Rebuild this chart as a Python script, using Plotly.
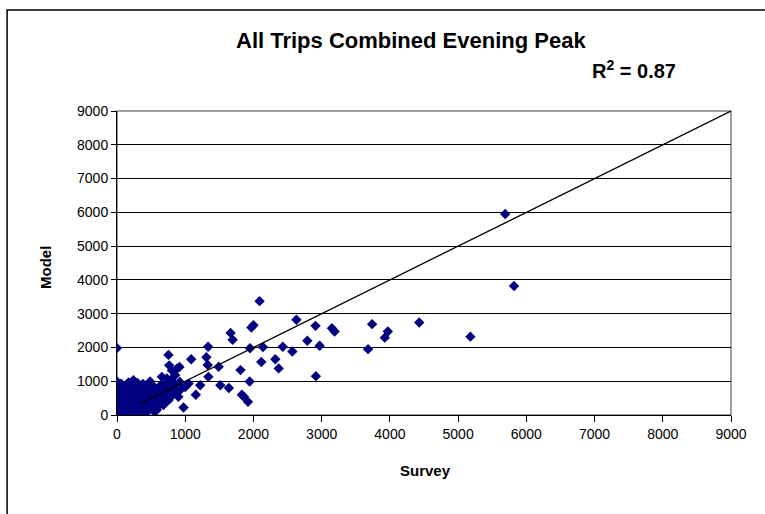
import plotly.graph_objects as go

# Outlying / readable points (Survey, Model)
survey_main = [5690, 5820, 5180, 4430, 3970, 3925, 3740, 3680, 3150, 3190, 2970, 2910, 2915,
               2790, 2630, 2570, 2430, 2370, 2320, 2140, 2115, 2090, 2000, 1970, 1950, 1945,
               1920, 1860, 1830, 1810, 1695, 1665, 1640, 1515, 1490, 1340, 1335, 1330, 1310,
               1220, 1155, 1088, 1050, 1000, 975, 950, 916, 900, 878, 853, 818, 805, 805, 765,
               755, 755, 730, 681, 657, 607, 583, 534, 485, 412, 412, 240, 0, 0]
model_main = [5950, 3820, 2320, 2740, 2470, 2290, 2690, 1950, 2570, 2470, 2050, 2640, 1150,
              2200, 2820, 1880, 2020, 1380, 1650, 2010, 1570, 3370, 2660, 2590, 1975, 990,
              390, 540, 600, 1330, 2230, 2430, 800, 880, 1430, 1130, 2020, 1480, 1710,
              880, 600, 1650, 930, 830, 220, 790, 1420, 540, 1370, 1180, 590, 1320, 1080, 1470,
              1780, 440, 1080, 295, 1130, 755, 150, 740, 990, 820, 50, 1030, 1980, 990]

# Dense cluster near the origin (Survey, Model)
survey_cluster = [0, 10, 0, 20, 5, 30, 0, 15, 0, 25, 5, 35, 0, 15, 40, 5, 25, 0, 45, 10, 30, 0, 20,
                  50, 5, 35, 0, 15, 60, 0, 25,
                  60, 80, 70, 90, 55, 100, 75, 110, 65, 95, 120, 80, 60, 130, 100, 70, 140, 90,
                  115, 75, 150, 100, 130, 85,
                  170, 160, 190, 150, 200, 175, 210, 160, 230, 180, 250, 200, 170, 240, 190, 220,
                  260, 180, 230, 270, 200, 250, 210, 290, 300, 280, 320, 260, 340, 300, 270, 350,
                  310, 370, 290, 330, 390, 350, 300, 410, 370, 320, 420, 360, 330, 400, 450, 430,
                  480, 440, 500, 460, 520, 470, 540, 430, 390, 460, 380, 520, 550, 500, 560, 600,
                  620, 640, 580, 500, 450, 550, 700, 680, 740, 720, 650,
                  620, 700, 780, 850, 880, 820, 920, 660, 580]
model_cluster = [880, 820, 760, 720, 680, 640, 600, 560, 520, 490, 450, 420, 390, 360, 330, 300,
                 270, 240, 210, 190, 160, 140, 110, 90, 70, 50, 30, 15, 5, 0, 0,
                 930, 850, 780, 700, 640, 610, 560, 520, 480, 440, 400, 360, 320, 300, 260, 230,
                 210, 180, 150, 120, 90, 60, 30, 10,
                 960, 880, 820, 760, 700, 650, 600, 560, 520, 480, 450, 410, 370, 340, 300, 260,
                 230, 200, 170, 140, 110, 80, 40, 20, 950, 870, 800, 760, 720, 670, 620, 580,
                 540, 500, 470, 430, 400, 360, 320, 290, 250, 220, 190, 150, 110, 80, 620, 560,
                 520, 470, 430, 380, 340, 300, 260, 700, 650, 900, 920, 880, 650, 560, 480, 400,
                 560, 340, 210, 180, 120, 100, 650, 850, 950, 500, 900,
                 650, 780, 700, 900, 650, 820, 980, 480, 560]

# 1:1 reference line
line_x = [340, 9000]
line_y = [340, 9000]

tick_vals = [0, 1000, 2000, 3000, 4000, 5000, 6000, 7000, 8000, 9000]
tick_text = [str(v) for v in tick_vals]

FONT = "Liberation Sans, Arial, sans-serif"
NAVY = "#000080"

fig = go.Figure()
fig.add_trace(go.Scatter(
    x=survey_cluster + survey_main, y=model_cluster + model_main, mode="markers",
    marker=dict(symbol="diamond", size=8, color=NAVY, line=dict(width=0)),
    showlegend=False, hoverinfo="x+y"))
fig.add_trace(go.Scatter(
    x=line_x, y=line_y, mode="lines", line=dict(color="black", width=1.3),
    showlegend=False, hoverinfo="skip"))

fig.update_layout(
    width=765, height=514,
    margin=dict(l=117, r=34, t=111, b=99),
    paper_bgcolor="white", plot_bgcolor="white",
    font=dict(family=FONT, size=14, color="black"),
    xaxis=dict(range=[0, 9000], tickvals=tick_vals, ticktext=tick_text,
               showgrid=False, zeroline=False, showline=True, linecolor="black",
               linewidth=1, ticks="outside", ticklen=6, tickcolor="black",
               tickfont=dict(size=14, family=FONT), mirror=False),
    yaxis=dict(range=[0, 9000], tickvals=tick_vals, ticktext=tick_text,
               showgrid=True, gridcolor="black", gridwidth=1, zeroline=False,
               showline=True, linecolor="black", linewidth=1, ticks="outside",
               ticklen=5, tickcolor="black", tickfont=dict(size=14, family=FONT)),
    shapes=[
        # gray plot-area border (right and top)
        dict(type="rect", xref="paper", yref="paper", x0=0, y0=0, x1=1, y1=1,
             line=dict(color="#808080", width=1.5), layer="below"),
        # outer chart frame (only left & top visible)
        dict(type="rect", xref="paper", yref="paper", x0=-0.179, y0=-2, x1=2, y1=1.332,
             line=dict(color="black", width=1.5), fillcolor="rgba(0,0,0,0)"),
    ],
    annotations=[
        dict(text="<b>All Trips Combined Evening Peak</b>", xref="paper", yref="paper",
             x=(411 - 117) / 614, y=(415 - 41) / 304, showarrow=False,
             xanchor="center", yanchor="middle", font=dict(size=22, family=FONT)),
        dict(text="<b>R<sup>2</sup> = 0.87</b>", xref="paper", yref="paper",
             x=(634 - 117) / 614, y=(415 - 69) / 304, showarrow=False,
             xanchor="center", yanchor="middle", font=dict(size=20, family=FONT)),
        dict(text="<b>Survey</b>", xref="paper", yref="paper",
             x=(425 - 117) / 614, y=(415 - 470) / 304, showarrow=False,
             xanchor="center", yanchor="middle", font=dict(size=15, family=FONT)),
        dict(text="<b>Model</b>", xref="paper", yref="paper",
             x=(45 - 117) / 614, y=(415 - 268) / 304, showarrow=False, textangle=-90,
             xanchor="center", yanchor="middle", font=dict(size=15, family=FONT)),
    ],
)

fig.write_html("out.html")
